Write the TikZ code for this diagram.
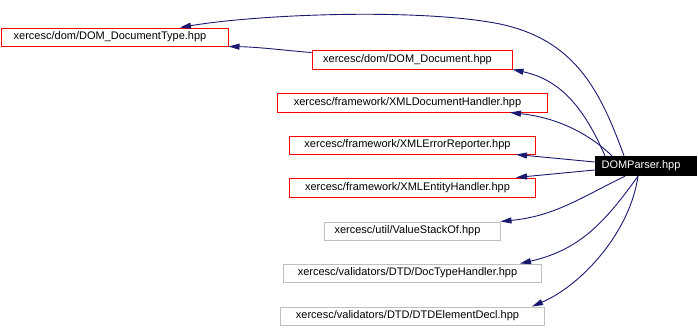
\documentclass[tikz,border=0pt]{standalone}
\usepackage{fontspec}
\setmainfont{Liberation Sans}
\usetikzlibrary{arrows.meta}
\definecolor{edgeblue}{HTML}{191970}
\definecolor{lightframe}{HTML}{BFBFBF}
\begin{document}
\begin{tikzpicture}[x=1pt,y=-1pt,
  filebox/.style={draw=red, line width=1pt, inner sep=0pt, minimum height=18pt,
    font=\fontsize{11}{13}\selectfont, execute at end node={\hspace*{9pt}}},
  plainbox/.style={filebox, draw=lightframe},
  mainbox/.style={fill=black, text=white, inner sep=0pt, minimum height=20pt,
    minimum width=102pt, font=\fontsize{11}{13}\selectfont,
    execute at end node={\hspace*{10pt}}},
  dep/.style={draw=edgeblue, line width=0.9pt,
    -{Triangle[length=11pt,width=6pt]}, fill=none}]
\useasboundingbox (0,0) rectangle (698,327);

% included headers
\node[filebox, minimum width=227pt] (b1) at (114.5,37) {xercesc/dom/DOM\_DocumentType.hpp};
\node[filebox, minimum width=200pt, minimum height=19pt] (b2) at (412,59.5) {xercesc/dom/DOM\_Document.hpp};
\node[filebox, minimum width=270pt, minimum height=19pt] (b3) at (412,102.5) {xercesc/framework/XMLDocumentHandler.hpp};
\node[filebox, minimum width=246pt] (b4) at (412,145) {xercesc/framework/XMLErrorReporter.hpp};
\node[filebox, minimum width=246pt, minimum height=19pt] (b5) at (412,187.5) {xercesc/framework/XMLEntityHandler.hpp};
\node[plainbox, minimum width=176pt] (b6) at (412,231) {xercesc/util/ValueStackOf.hpp};
\node[plainbox, minimum width=258pt] (b7) at (412,273) {xercesc/validators/DTD/DocTypeHandler.hpp};
\node[plainbox, minimum width=264pt] (b8) at (412,316) {xercesc/validators/DTD/DTDElementDecl.hpp};

% the including header
\node[mainbox] (dp) at (646,166) {DOMParser.hpp};

% include edges
\draw[dep] ([xshift=-22pt]dp.north) .. controls (600,90) and (575,40) .. (500,24)
  .. controls (420,8) and (260,14) .. ([xshift=65.5pt]b1.north);
\draw[dep] ([yshift=7pt]b2.west) .. controls (290,51) and (260,47) .. (b1.south east);
\draw[dep] ([xshift=-41pt]dp.north) .. controls (585,110) and (562,80) .. (b2.south east);
\draw[dep] ([xshift=-34pt]dp.north) .. controls (590,135) and (560,118) .. ([xshift=98pt]b3.south);
\draw[dep] ([yshift=4pt]dp.west) -- ([xshift=104pt]b4.south);
\draw[dep] ([yshift=-4pt]dp.west) -- ([xshift=104pt]b5.north);
\draw[dep] ([xshift=-21pt]dp.south) .. controls (580,198) and (555,216) .. (b6.north east);
\draw[dep] ([xshift=-8pt]dp.south) .. controls (605,222) and (580,250) .. ([xshift=108pt]b7.north);
\draw[dep] ([xshift=-8pt]dp.south) .. controls (630,232) and (582,285) .. ([xshift=120pt]b8.north);
\end{tikzpicture}
\end{document}
